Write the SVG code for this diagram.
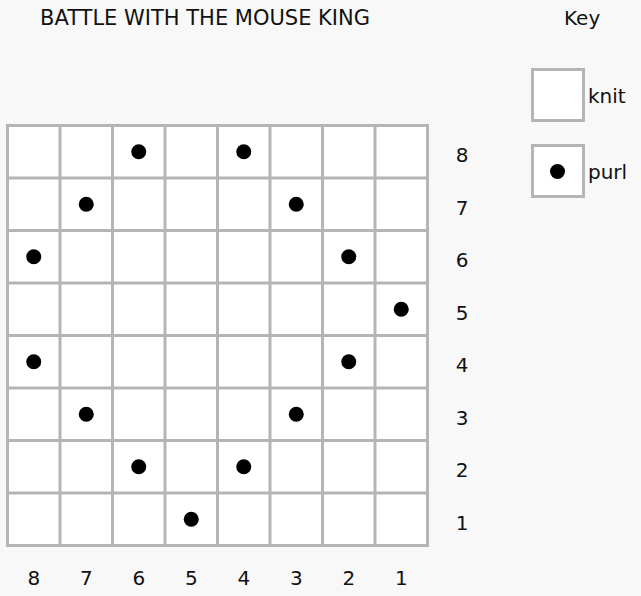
<svg xmlns="http://www.w3.org/2000/svg" width="641" height="596" viewBox="0 0 641 596">
<style>
.g{stroke:#b5b5b5;stroke-width:3;fill:none}
.t{font-family:"DejaVu Sans","Liberation Sans",sans-serif;fill:#111}
.n{font-size:20px;text-anchor:middle}
.d{fill:#000}
</style>
<rect width="641" height="596" fill="#f8f8f8"/>
<text class="t" x="40" y="25" font-size="20.5" textLength="330" lengthAdjust="spacingAndGlyphs">BATTLE WITH THE MOUSE KING</text>
<text class="t" x="564" y="25" font-size="20">Key</text>
<g id="chart">
<rect x="7.5" y="125.5" width="420" height="420" fill="#fff"/>
<path class="g" d="M7.5 125.5H427.5V545.5H7.5Z M60 125.5V545.5 M112.5 125.5V545.5 M165 125.5V545.5 M217.5 125.5V545.5 M270 125.5V545.5 M322.5 125.5V545.5 M375 125.5V545.5 M7.5 178H427.5 M7.5 230.5H427.5 M7.5 283H427.5 M7.5 335.5H427.5 M7.5 388H427.5 M7.5 440.5H427.5 M7.5 493H427.5"/>
</g>
<g id="purls" class="d">
<circle cx="138.75" cy="151.75" r="7.5"/><circle cx="243.75" cy="151.75" r="7.5"/>
<circle cx="86.25" cy="204.25" r="7.5"/><circle cx="296.25" cy="204.25" r="7.5"/>
<circle cx="33.75" cy="256.75" r="7.5"/><circle cx="348.75" cy="256.75" r="7.5"/>
<circle cx="401.25" cy="309.25" r="7.5"/>
<circle cx="33.75" cy="361.75" r="7.5"/><circle cx="348.75" cy="361.75" r="7.5"/>
<circle cx="86.25" cy="414.25" r="7.5"/><circle cx="296.25" cy="414.25" r="7.5"/>
<circle cx="138.75" cy="466.75" r="7.5"/><circle cx="243.75" cy="466.75" r="7.5"/>
<circle cx="191.25" cy="519.25" r="7.5"/>
</g>
<g id="row-numbers" class="t n">
<text x="462" y="162">8</text><text x="462" y="214.5">7</text><text x="462" y="267">6</text><text x="462" y="319.5">5</text><text x="462" y="372">4</text><text x="462" y="424.5">3</text><text x="462" y="477">2</text><text x="462" y="529.5">1</text>
</g>
<g id="col-numbers" class="t n">
<text x="33.75" y="585">8</text><text x="86.25" y="585">7</text><text x="138.75" y="585">6</text><text x="191.25" y="585">5</text><text x="243.75" y="585">4</text><text x="296.25" y="585">3</text><text x="348.75" y="585">2</text><text x="401.25" y="585">1</text>
</g>
<g id="key-knit">
<rect class="g" x="532.5" y="69.5" width="51" height="51" style="fill:#fff"/>
<text class="t" x="588" y="103" font-size="20">knit</text>
</g>
<g id="key-purl">
<rect class="g" x="532.5" y="145.5" width="51" height="51" style="fill:#fff"/>
<circle class="d" cx="557.5" cy="171.5" r="7.5"/>
<text class="t" x="588" y="179" font-size="20">purl</text>
</g>
</svg>
